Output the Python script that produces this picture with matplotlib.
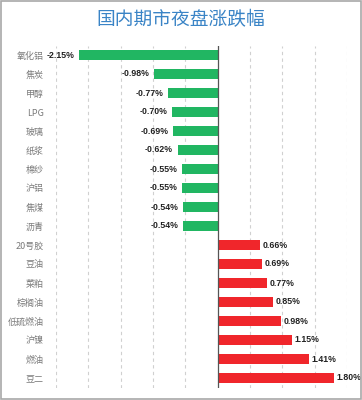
import matplotlib
matplotlib.use("Agg")
import matplotlib.pyplot as plt
from matplotlib.patches import Rectangle

categories = ["氧化铝", "焦炭", "甲醇", "LPG", "玻璃", "纸浆", "棉纱", "沪铝", "焦煤", "沥青",
              "20号胶", "豆油", "菜粕", "棕榈油", "低硫燃油", "沪镍", "燃油", "豆二"]
values = [-2.15, -0.98, -0.77, -0.70, -0.69, -0.62, -0.55, -0.55, -0.54, -0.54,
          0.66, 0.69, 0.77, 0.85, 0.98, 1.15, 1.41, 1.80]
title = "国内期市夜盘涨跌幅"

plt.rcParams['font.family'] = ['Noto Sans CJK SC', 'DejaVu Sans']

fig = plt.figure(figsize=(3.62, 4.0), dpi=100)
W, H = 362, 400
x0, x1 = 56, 347
y_top, y_bot = 45.5, 387.5
ax = fig.add_axes([x0 / W, 1 - y_bot / H, (x1 - x0) / W, (y_bot - y_top) / H])

green = "#21b662"
red = "#f0262b"
colors = [green if v < 0 else red for v in values]
ypos = list(range(len(categories)))
ax.barh(ypos, values, height=0.56, color=colors, zorder=2)

ax.set_xlim(-2.5, 2.0)
ax.set_ylim(len(categories) - 0.5, -0.5)
for gx in [-2.5, -2.0, -1.5, -1.0, -0.5, 0.5, 1.0, 1.5, 2.0]:
    ax.axvline(gx, color="#d0d0d0", lw=0.8, ls=(0, (3, 3)), zorder=1)
ax.axvline(0, color="#555555", lw=0.9, zorder=3)

for s in ax.spines.values():
    s.set_visible(False)
ax.set_xticks([])
ax.set_yticks(ypos)
ax.set_yticklabels(categories, fontsize=6.5, color="#7a7a7a")
ax.tick_params(axis='y', length=0, pad=9)

for y, v in zip(ypos, values):
    txt = f"{v:.2f}%"
    if v < 0:
        ax.text(v - 0.07, y, txt, ha="right", va="center", fontsize=6.3,
                fontweight="bold", color="#222222", family="Liberation Sans", clip_on=False)
    else:
        ax.text(v + 0.04, y, txt, ha="left", va="center", fontsize=6.3,
                fontweight="bold", color="#222222", family="Liberation Sans", clip_on=False)

fig.text(0.5, 1 - 20 / H, title, ha="center", va="center", fontsize=13.5,
         color="#3a84c6")

fig.patches.append(Rectangle((0.003, 0.003), 0.994, 0.994, transform=fig.transFigure,
                             fill=False, edgecolor="#a8a8a8", lw=1.2))

fig.savefig("out.png", dpi=100)
